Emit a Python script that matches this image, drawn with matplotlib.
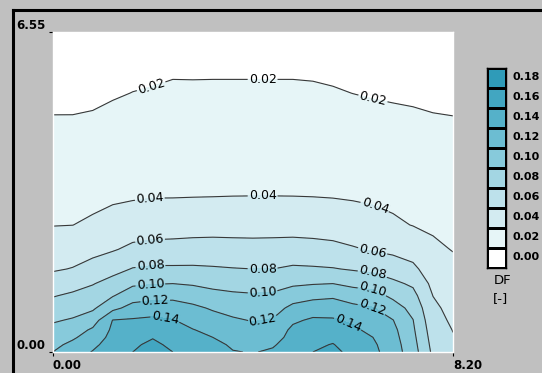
import numpy as np
import matplotlib
matplotlib.use("Agg")
import matplotlib.pyplot as plt
from matplotlib.colors import ListedColormap, BoundaryNorm
from matplotlib.lines import Line2D

plt.rcParams['font.family'] = ['DejaVu Sans']

# grid of daylight factor values (x: room width, y: depth)
x = [0.0, 0.41, 0.82, 1.23, 1.64, 2.05, 2.46, 2.87, 3.28, 3.69, 4.10,
     4.51, 4.92, 5.33, 5.74, 6.15, 6.56, 6.97, 7.38, 7.79, 8.2]
y = [0.0, 0.15, 0.3, 0.45, 0.65, 0.9, 1.15, 1.4, 1.7, 2.1, 2.6, 3.2, 3.9, 4.6, 5.3, 6.0, 6.55]

# rows = y, columns = x
df = [
    [0.120, 0.131, 0.141, 0.150, 0.160, 0.168, 0.160, 0.153, 0.150, 0.141, 0.139,
     0.1427, 0.152, 0.160, 0.166, 0.153, 0.145, 0.130, 0.109, 0.076, 0.064],
    [0.115, 0.1245, 0.136, 0.148, 0.157, 0.164, 0.156, 0.150, 0.146, 0.137, 0.135,
     0.138, 0.149, 0.1562, 0.161, 0.150, 0.143, 0.129, 0.107, 0.074, 0.063],
    [0.110, 0.1173, 0.129, 0.146, 0.152, 0.159, 0.152, 0.146, 0.140, 0.1324, 0.130,
     0.1327, 0.146, 0.1519, 0.155, 0.1465, 0.140, 0.127, 0.105, 0.072, 0.061],
    [0.105, 0.1109, 0.123, 0.1435, 0.148, 0.153, 0.147, 0.1408, 0.135, 0.1282, 0.125,
     0.128, 0.144, 0.1481, 0.150, 0.1435, 0.135, 0.125, 0.103, 0.070, 0.0595],
    [0.098, 0.1018, 0.111, 0.1405, 0.142, 0.144, 0.141, 0.1331, 0.127, 0.1224, 0.119,
     0.1213, 0.137, 0.1427, 0.142, 0.137, 0.129, 0.1205, 0.1005, 0.067, 0.057],
    [0.088, 0.0923, 0.097, 0.1147, 0.127, 0.130, 0.129, 0.1238, 0.118, 0.1133, 0.110,
     0.1123, 0.125, 0.1307, 0.131, 0.125, 0.121, 0.1089, 0.094, 0.064, 0.054],
    [0.079, 0.0831, 0.088, 0.099, 0.111, 0.114, 0.115, 0.1118, 0.106, 0.1033, 0.102,
     0.1031, 0.111, 0.1147, 0.117, 0.1107, 0.1075, 0.096, 0.086, 0.0598, 0.051],
    [0.069, 0.0733, 0.079, 0.087, 0.097, 0.099, 0.100, 0.098, 0.095, 0.0933, 0.0925,
     0.093, 0.097, 0.0989, 0.100, 0.0953, 0.0925, 0.084, 0.077, 0.055, 0.048],
    [0.058, 0.0608, 0.067, 0.0736, 0.081, 0.083, 0.083, 0.083, 0.082, 0.0808, 0.080,
     0.080, 0.083, 0.0822, 0.081, 0.0783, 0.0755, 0.0704, 0.064, 0.050, 0.044],
    [0.050, 0.0512, 0.0545, 0.0585, 0.064, 0.066, 0.066, 0.0669, 0.067, 0.0664, 0.066,
     0.0662, 0.067, 0.0662, 0.065, 0.0617, 0.0585, 0.0557, 0.052, 0.043, 0.0394],
    [0.0395, 0.0399, 0.0425, 0.0465, 0.050, 0.051, 0.052, 0.0525, 0.053, 0.053, 0.053,
     0.0532, 0.053, 0.0524, 0.051, 0.049, 0.0465, 0.0427, 0.0395, 0.0376, 0.0359],
    [0.035, 0.0347, 0.0356, 0.0371, 0.038, 0.039, 0.039, 0.0393, 0.0395, 0.0398, 0.0399,
     0.0399, 0.0398, 0.0395, 0.039, 0.0381, 0.037, 0.0358, 0.035, 0.0331, 0.0316],
    [0.028, 0.0284, 0.0292, 0.0309, 0.032, 0.033, 0.033, 0.0334, 0.034, 0.034, 0.034,
     0.034, 0.034, 0.0334, 0.033, 0.0319, 0.031, 0.0296, 0.029, 0.0276, 0.0265],
    [0.022, 0.0222, 0.0229, 0.0248, 0.026, 0.027, 0.028, 0.0277, 0.028, 0.028, 0.028,
     0.028, 0.028, 0.0276, 0.027, 0.0258, 0.025, 0.0237, 0.023, 0.0222, 0.0215],
    [0.0165, 0.0162, 0.017, 0.0187, 0.0202, 0.021, 0.022, 0.0219, 0.022, 0.022, 0.022,
     0.022, 0.022, 0.0217, 0.021, 0.0199, 0.019, 0.0185, 0.018, 0.017, 0.017],
    [0.012, 0.0118, 0.012, 0.0135, 0.015, 0.016, 0.017, 0.017, 0.017, 0.017, 0.017,
     0.017, 0.017, 0.0168, 0.016, 0.0152, 0.0145, 0.014, 0.0135, 0.013, 0.013],
    [0.009, 0.0088, 0.009, 0.010, 0.011, 0.012, 0.013, 0.013, 0.013, 0.013, 0.013,
     0.013, 0.013, 0.0128, 0.012, 0.0115, 0.011, 0.0105, 0.010, 0.010, 0.010],
]

levels = [0.00, 0.02, 0.04, 0.06, 0.08, 0.10, 0.12, 0.14, 0.16, 0.18]
level_labels = ['0.00', '0.02', '0.04', '0.06', '0.08', '0.10', '0.12', '0.14', '0.16', '0.18']
band_colors = ['#ffffff', '#e6f5f7', '#d3ebf1', '#bde1eb', '#a3d6e3', '#87cadb',
               '#6cbdd2', '#55b1c9', '#42a6c1', '#2f9bb8']

# where the labels sit on the lines
label_pos = [(2.0, 5.5), (4.3, 5.6), (6.55, 5.15),
             (2.0, 3.05), (4.3, 3.2), (6.55, 2.87),
             (2.0, 2.25), (6.55, 2.05),
             (2.0, 1.78), (4.3, 1.7), (6.55, 1.6),
             (2.0, 1.38), (4.3, 1.23), (6.55, 1.27),
             (2.1, 1.05), (4.3, 0.65), (6.55, 0.94),
             (2.3, 0.67), (6.1, 0.72)]

X, Y = np.meshgrid(x, y)
Z = np.array(df)

cmap = ListedColormap(band_colors)
norm = BoundaryNorm(levels + [0.20], cmap.N)

fig = plt.figure(figsize=(5.42, 3.73), dpi=100)
fig.patch.set_facecolor('#c0c0c0')

ax = fig.add_axes([52.7 / 542, 1 - 352 / 373, 400.3 / 542, 320 / 373])
ax.contourf(X, Y, Z, levels=levels + [0.20], cmap=cmap, norm=norm)
cs = ax.contour(X, Y, Z, levels=levels[1:9], colors='#383838', linewidths=0.8)
ax.clabel(cs, fmt='%.2f', fontsize=9, colors='black', manual=label_pos, inline_spacing=1)

ax.set_xlim(0, 8.2)
ax.set_ylim(0, 6.55)
ax.set_xticks([0, 8.2])
ax.set_xticklabels(['0.00', '8.20'], fontsize=8.5, fontweight='bold', ha='left')
ax.set_yticks([0, 6.55])
ax.set_yticklabels(['0.00', '6.55'], fontsize=8.5, fontweight='bold', va='bottom')
ax.tick_params(length=3, width=0.8, pad=2)
for s in ax.spines.values():
    s.set_color('white')
    s.set_linewidth(1)

# legend boxes
lax = fig.add_axes([487 / 542, 1 - 268 / 373, 19 / 542, 200 / 373])
lax.pcolormesh([0, 1], np.arange(len(levels) + 1), np.array(levels).reshape(-1, 1),
               cmap=cmap, norm=norm, edgecolors='black', linewidth=1)
lax.set_xlim(0, 1)
lax.set_ylim(0, len(levels))
lax.set_xticks([])
lax.yaxis.tick_right()
lax.set_yticks(np.arange(len(levels)) + 0.62)
lax.set_yticklabels(level_labels, fontsize=8, fontweight='bold')
lax.tick_params(length=0, pad=5)
for s in lax.spines.values():
    s.set_color('black')
    s.set_linewidth(1)

fig.text(503 / 542, 1 - 281 / 373, 'DF', fontsize=9.5, ha='center', va='center')
fig.text(501 / 542, 1 - 299 / 373, '[-]', fontsize=9.5, ha='center', va='center')

# window frame lines
fig.add_artist(Line2D([13 / 542, 13 / 542], [0, 1 - 10 / 373], transform=fig.transFigure,
                      color='black', lw=2.2))
fig.add_artist(Line2D([13 / 542, 1], [1 - 10 / 373, 1 - 10 / 373], transform=fig.transFigure,
                      color='black', lw=2.2))

fig.savefig('out.png', dpi=100, facecolor=fig.get_facecolor())
